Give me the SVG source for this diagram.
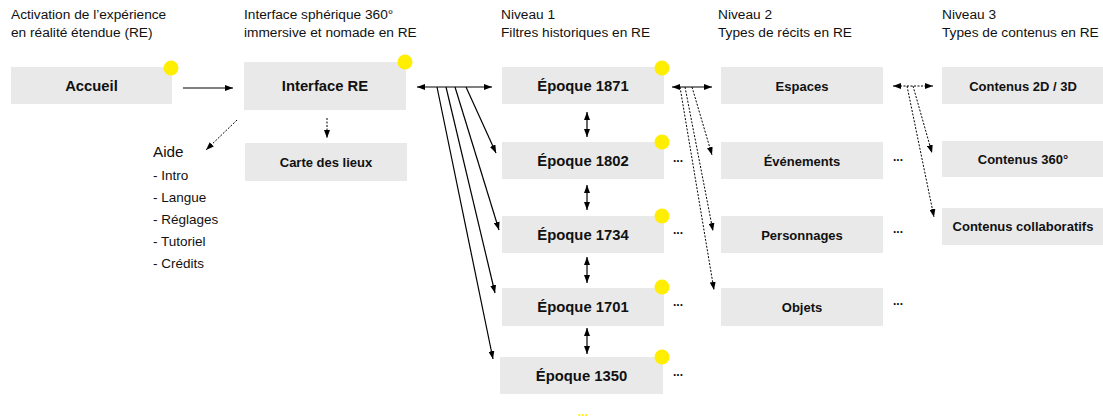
<svg xmlns="http://www.w3.org/2000/svg" width="1103" height="419" viewBox="0 0 1103 419">
  <style>
    .hdr { font-family: "Liberation Sans", Arial, sans-serif; font-size: 13.7px; fill: #111; }
    .box { fill: #e9e9e9; }
    .lbl { font-family: "Liberation Sans", Arial, sans-serif; font-weight: bold; fill: #111; text-anchor: middle; }
    .big { font-size: 14.8px; }
    .small { font-size: 13px; }
    .dot { fill: #ffee00; }
    .more { font-family: "Liberation Sans", Arial, sans-serif; font-weight: bold; font-size: 12px; fill: #111; }
    .aide { font-family: "Liberation Sans", Arial, sans-serif; fill: #111; }
    .solid { stroke: #000; stroke-width: 1.2; fill: none; }
    .dash { stroke: #000; stroke-width: 1; stroke-dasharray: 2 1.5; fill: none; }
  </style>
  <defs>
    <marker id="arr" markerUnits="userSpaceOnUse" markerWidth="8" markerHeight="6" refX="8" refY="3" orient="auto-start-reverse">
      <path d="M0,0 L8,3 L0,6 z" fill="#000"/>
    </marker>
  </defs>

  <rect width="1103" height="419" fill="#fff"/>

  <!-- column headings -->
  <g id="headings">
    <text class="hdr" x="11" y="19">Activation de l’expérience</text>
    <text class="hdr" x="11" y="37">en réalité étendue (RE)</text>
    <text class="hdr" x="244" y="19">Interface sphérique 360°</text>
    <text class="hdr" x="244" y="37">immersive et nomade en RE</text>
    <text class="hdr" x="501" y="19">Niveau 1</text>
    <text class="hdr" x="501" y="37">Filtres historiques en RE</text>
    <text class="hdr" x="718" y="19">Niveau 2</text>
    <text class="hdr" x="718" y="37">Types de récits en RE</text>
    <text class="hdr" x="942" y="19">Niveau 3</text>
    <text class="hdr" x="942" y="37">Types de contenus en RE</text>
  </g>

  <!-- entry -->
  <g id="accueil">
    <rect class="box" x="11" y="67" width="161" height="37"/>
    <text class="lbl big" x="91.5" y="91">Accueil</text>
    <circle class="dot" cx="171" cy="68" r="7.5"/>
  </g>

  <g id="interface-re">
    <rect class="box" x="244" y="62" width="162" height="48"/>
    <text class="lbl big" x="325" y="91">Interface RE</text>
    <circle class="dot" cx="405" cy="62" r="7.5"/>
  </g>

  <g id="carte-des-lieux">
    <rect class="box" x="245" y="143" width="162" height="38"/>
    <text class="lbl small" x="326" y="166.5">Carte des lieux</text>
  </g>

  <g id="aide">
    <text class="aide" x="153" y="157" font-size="15.3">Aide</text>
    <text class="aide" x="153" y="180" font-size="13.5">- Intro</text>
    <text class="aide" x="153" y="202" font-size="13.5">- Langue</text>
    <text class="aide" x="153" y="224" font-size="13.5">- Réglages</text>
    <text class="aide" x="153" y="246" font-size="13.5">- Tutoriel</text>
    <text class="aide" x="153" y="268" font-size="13.5">- Crédits</text>
  </g>

  <!-- level 1: historical filters -->
  <g id="epoque-1871">
    <rect class="box" x="502" y="67" width="162" height="37"/>
    <text class="lbl big" x="583" y="91">Époque 1871</text>
    <circle class="dot" cx="662" cy="68" r="7.5"/>
  </g>
  <g id="epoque-1802">
    <rect class="box" x="502" y="142" width="162" height="37"/>
    <text class="lbl big" x="583" y="166">Époque 1802</text>
    <circle class="dot" cx="662" cy="142" r="7.5"/>
    <text class="more" x="673" y="162">...</text>
  </g>
  <g id="epoque-1734">
    <rect class="box" x="502" y="216" width="162" height="37"/>
    <text class="lbl big" x="583" y="240">Époque 1734</text>
    <circle class="dot" cx="662" cy="216" r="7.5"/>
    <text class="more" x="673" y="234">...</text>
  </g>
  <g id="epoque-1701">
    <rect class="box" x="502" y="288" width="162" height="38"/>
    <text class="lbl big" x="583" y="312">Époque 1701</text>
    <circle class="dot" cx="662" cy="287" r="7.5"/>
    <text class="more" x="673" y="306">...</text>
  </g>
  <g id="epoque-1350">
    <rect class="box" x="500" y="357" width="163" height="37"/>
    <text class="lbl big" x="581.5" y="381">Époque 1350</text>
    <circle class="dot" cx="662" cy="357" r="7.5"/>
    <text class="more" x="673" y="376">...</text>
  </g>
  <text id="more-epochs" x="578" y="416" font-family="Liberation Sans, Arial, sans-serif" font-weight="bold" font-size="12" fill="#ffee00">...</text>

  <!-- level 2: story types -->
  <g id="espaces">
    <rect class="box" x="721" y="67" width="162" height="37"/>
    <text class="lbl small" x="802" y="90.5">Espaces</text>
  </g>
  <g id="evenements">
    <rect class="box" x="721" y="142" width="162" height="37"/>
    <text class="lbl small" x="802" y="165.5">Événements</text>
    <text class="more" x="893" y="161">...</text>
  </g>
  <g id="personnages">
    <rect class="box" x="721" y="216" width="162" height="37"/>
    <text class="lbl small" x="802" y="239.5">Personnages</text>
    <text class="more" x="893" y="233">...</text>
  </g>
  <g id="objets">
    <rect class="box" x="721" y="288" width="162" height="38"/>
    <text class="lbl small" x="802" y="312">Objets</text>
    <text class="more" x="893" y="305">...</text>
  </g>

  <!-- level 3: content types -->
  <g id="contenus-2d-3d">
    <rect class="box" x="942" y="67" width="162" height="37"/>
    <text class="lbl small" x="1023" y="90.5">Contenus 2D / 3D</text>
  </g>
  <g id="contenus-360">
    <rect class="box" x="942" y="141" width="162" height="36"/>
    <text class="lbl small" x="1023" y="164">Contenus 360°</text>
  </g>
  <g id="contenus-collaboratifs">
    <rect class="box" x="942" y="208" width="162" height="37"/>
    <text class="lbl small" x="1023" y="231">Contenus collaboratifs</text>
  </g>

  <!-- connectors -->
  <g id="connectors">
    <line class="solid" x1="183" y1="88" x2="233" y2="88" marker-end="url(#arr)"/>
    <line class="dash" x1="327" y1="118" x2="327" y2="138" marker-end="url(#arr)"/>
    <line class="dash" x1="237" y1="120" x2="206" y2="150" marker-end="url(#arr)"/>

    <line class="solid" x1="417" y1="87" x2="492" y2="87" marker-start="url(#arr)" marker-end="url(#arr)"/>
    <line class="solid" x1="466" y1="87" x2="496" y2="153" marker-end="url(#arr)"/>
    <line class="solid" x1="455" y1="87" x2="499" y2="230" marker-end="url(#arr)"/>
    <line class="solid" x1="446" y1="87" x2="495" y2="293" marker-end="url(#arr)"/>
    <line class="solid" x1="437" y1="87" x2="493" y2="359" marker-end="url(#arr)"/>

    <line class="solid" x1="587" y1="112" x2="587" y2="137" marker-start="url(#arr)" marker-end="url(#arr)"/>
    <line class="solid" x1="587" y1="185" x2="587" y2="210" marker-start="url(#arr)" marker-end="url(#arr)"/>
    <line class="solid" x1="587" y1="257" x2="587" y2="283" marker-start="url(#arr)" marker-end="url(#arr)"/>
    <line class="solid" x1="587" y1="328" x2="587" y2="354" marker-start="url(#arr)" marker-end="url(#arr)"/>

    <line class="solid" x1="672" y1="87" x2="712" y2="87" marker-start="url(#arr)" marker-end="url(#arr)"/>
    <line class="dash" x1="692" y1="87" x2="712" y2="155" marker-end="url(#arr)"/>
    <line class="dash" x1="685" y1="87" x2="713" y2="231" marker-end="url(#arr)"/>
    <line class="dash" x1="680" y1="87" x2="714" y2="290" marker-end="url(#arr)"/>

    <line class="dash" x1="893" y1="86" x2="933" y2="86" marker-start="url(#arr)" marker-end="url(#arr)"/>
    <line class="dash" x1="913" y1="86" x2="932" y2="153" marker-end="url(#arr)"/>
    <line class="dash" x1="907" y1="86" x2="934" y2="217" marker-end="url(#arr)"/>
  </g>
</svg>
